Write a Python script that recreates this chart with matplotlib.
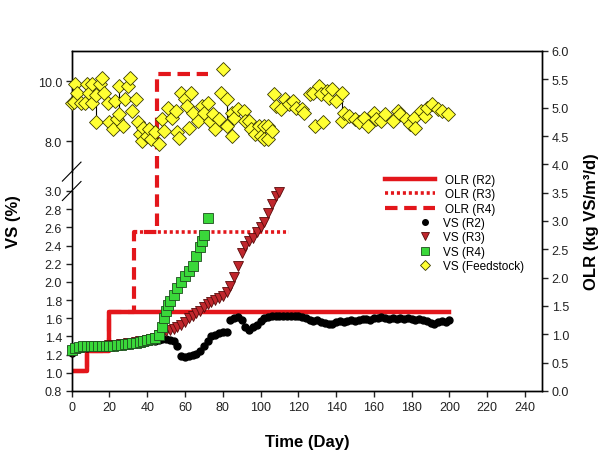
import numpy as np
import matplotlib
matplotlib.use('Agg')
import matplotlib.pyplot as plt

plt.rcParams['font.family'] = ['Liberation Sans', 'DejaVu Sans']

# OLR steps (day, kg VS/m3/d)
olr_r2_day = [0, 8, 8, 20, 20, 200]
olr_r2_val = [0.35, 0.35, 0.7, 0.7, 1.4, 1.4]
olr_r3_day = [0, 8, 8, 20, 20, 33, 33, 115]
olr_r3_val = [0.35, 0.35, 0.7, 0.7, 1.4, 1.4, 2.8, 2.8]
olr_r4_day = [0, 8, 8, 20, 20, 33, 33, 45, 45, 72]
olr_r4_val = [0.35, 0.35, 0.7, 0.7, 1.4, 1.4, 2.8, 2.8, 5.6, 5.6]

# VS (%) in reactors
r2_day = list(range(0, 201, 2))
r2_vs = [1.22, 1.25, 1.26, 1.27, 1.27, 1.28, 1.28, 1.29, 1.29, 1.29,
         1.30, 1.30, 1.31, 1.31, 1.31, 1.32, 1.32, 1.33, 1.33, 1.33,
         1.34, 1.35, 1.35, 1.36, 1.37, 1.37, 1.36, 1.35, 1.30, 1.19,
         1.17, 1.18, 1.20, 1.21, 1.24, 1.30, 1.35, 1.40, 1.42, 1.44,
         1.45, 1.45, 1.58, 1.60, 1.61, 1.58, 1.50, 1.47, 1.50, 1.53,
         1.57, 1.60, 1.61, 1.62, 1.63, 1.63, 1.62, 1.63, 1.62, 1.63,
         1.62, 1.61, 1.60, 1.58, 1.57, 1.58, 1.56, 1.55, 1.54, 1.54,
         1.56, 1.57, 1.56, 1.57, 1.58, 1.57, 1.58, 1.59, 1.59, 1.58,
         1.60, 1.60, 1.61, 1.60, 1.59, 1.60, 1.59, 1.60, 1.59, 1.60,
         1.59, 1.58, 1.59, 1.58, 1.57, 1.55, 1.54, 1.56, 1.57, 1.56, 1.58]

r3_day = list(range(0, 111, 2))
r3_vs = [1.24, 1.26, 1.27, 1.28, 1.28, 1.29, 1.29, 1.30, 1.30, 1.30,
         1.31, 1.31, 1.31, 1.32, 1.32, 1.33, 1.33, 1.34, 1.35, 1.35,
         1.36, 1.37, 1.38, 1.42, 1.44, 1.46, 1.47, 1.48, 1.50, 1.53,
         1.56, 1.60, 1.63, 1.66, 1.68, 1.72, 1.76, 1.78, 1.80, 1.82,
         1.85, 1.89, 1.95, 2.05, 2.18, 2.32, 2.40, 2.45, 2.48, 2.55,
         2.60, 2.66, 2.76, 2.86, 2.94, 2.99]

r4_day = [0, 2, 4, 6, 8, 10, 12, 14, 16, 18, 20, 22, 24, 26, 28, 30, 32, 34,
          36, 38, 40, 42, 44, 46, 48, 49, 50, 51, 52, 54, 56, 58, 60, 62, 64,
          66, 68, 69, 70, 72]
r4_vs = [1.25, 1.27, 1.28, 1.29, 1.29, 1.30, 1.30, 1.30, 1.29, 1.30,
         1.30, 1.30, 1.31, 1.31, 1.32, 1.32, 1.33, 1.33, 1.34, 1.35,
         1.36, 1.37, 1.38, 1.42, 1.50, 1.60, 1.68, 1.75, 1.79, 1.86,
         1.93, 2.00, 2.06, 2.12, 2.18, 2.28, 2.38, 2.45, 2.52, 2.70]

# VS (%) of feedstock
fs_day = [0, 1, 2, 3, 5, 7, 8, 9, 11, 11, 13, 13, 15, 16, 17, 19, 20, 22, 23,
          24, 25, 25, 27, 28, 30, 31, 32, 34, 35, 36, 37, 38, 40, 41, 42, 44,
          46, 48, 49, 51, 53, 55, 56, 57, 58, 60, 61, 62, 63, 64, 67, 69, 70,
          72, 73, 75, 76, 78, 79, 80, 82, 82, 85, 85, 86, 88, 91, 92, 94, 95,
          97, 99, 100, 102, 102, 104, 104, 106, 107, 108, 111, 113, 115, 117,
          119, 122, 123, 126, 128, 129, 131, 132, 133, 135, 136, 138, 140,
          143, 143, 144, 147, 150, 152, 155, 157, 160, 161, 164, 166, 170,
          173, 174, 177, 179, 181, 182, 185, 187, 188, 191, 194, 196, 199]
fs_vs = [9.27, 9.30, 9.89, 9.62, 9.29, 9.29, 9.89, 9.62, 9.89, 9.29, 9.55,
         8.64, 9.89, 10.12, 9.62, 9.29, 8.64, 8.41, 9.34, 8.74, 9.83, 8.90,
         8.52, 9.40, 9.83, 10.11, 9.01, 9.40, 8.63, 8.24, 8.02, 8.46, 8.18,
         8.41, 8.08, 8.30, 7.91, 8.74, 8.35, 9.12, 8.79, 9.01, 8.30, 8.13,
         9.62, 9.40, 9.17, 8.46, 9.62, 8.96, 8.68, 9.17, 8.96, 9.29, 8.68,
         8.90, 8.41, 8.74, 9.62, 10.39, 9.40, 8.51, 8.96, 8.18, 8.79, 9.07,
         9.01, 8.68, 8.68, 8.41, 8.24, 8.51, 8.18, 8.51, 8.08, 8.51, 8.08,
         8.35, 9.56, 9.17, 9.07, 9.40, 9.23, 9.34, 9.12, 9.07, 8.96, 9.56,
         9.62, 8.51, 9.83, 9.56, 8.63, 9.67, 9.45, 9.73, 9.34, 9.62, 8.68,
         8.96, 8.85, 8.74, 8.63, 8.79, 8.51, 8.96, 8.74, 8.68, 8.90, 8.68,
         9.01, 8.90, 8.74, 8.57, 8.79, 8.46, 9.01, 8.85, 9.12, 9.23, 9.07,
         9.01, 8.90]

# broken VS axis: 0.8-3.0 below, 7-11 above
brk_v = [0.8, 3.0, 7.0, 11.0]
brk_p = [0.0, 200.0, 219.4, 340.0]


def fwd(v):
    return np.interp(v, brk_v, brk_p)


def inv(p):
    return np.interp(p, brk_p, brk_v)


red = '#e3161b'

fig = plt.figure(figsize=(6.08, 4.52), dpi=100)
ax = fig.add_axes([71.7 / 608, 60 / 452, 470.3 / 608, 340 / 452])
ax2 = ax.twinx()
ax.set_zorder(ax2.get_zorder() + 1)
ax.patch.set_visible(False)

# R3 shares its first steps with R2/R4 (hidden under them), draw only from its own rise
k3 = olr_r3_val.index(max(olr_r3_val))
ax2.plot(olr_r3_day[k3:], olr_r3_val[k3:], color=red, lw=2.6, ls=(0, (0.85, 0.8)),
         label='OLR (R3)')
ax2.plot(olr_r4_day, olr_r4_val, color=red, lw=3, ls=(0, (3.0, 1.6)), label='OLR (R4)')
ax2.plot(olr_r2_day, olr_r2_val, color=red, lw=3.2, label='OLR (R2)')
ax2.set_ylim(0, 6)
ax2.set_yticks(np.arange(0, 6.01, 0.5))
ax2.set_yticklabels(['%.1f' % v for v in np.arange(0, 6.01, 0.5)])
ax2.set_ylabel('OLR (kg VS/m³/d)', fontsize=12, fontweight='bold', labelpad=11)

ax.set_yscale('function', functions=(fwd, inv))
ax.set_ylim(0.8, 11.0)
ax.set_xlim(0, 249)

# thin bars joining replicate feedstock points on the same day
days = np.array(fs_day)
vals = np.array(fs_vs)
for d in np.unique(days):
    sel = vals[days == d]
    if len(sel) > 1:
        ax.vlines(d, sel.min(), sel.max(), color='black', lw=0.8, zorder=2)

ax.plot(r2_day, r2_vs, ls='none', marker='o', ms=5, mfc='black', mec='black',
        clip_on=False, zorder=3, label='VS (R2)')
ax.plot(r3_day, r3_vs, ls='none', marker='v', ms=7.5, mfc='#c0272d', mec='#5a0a0a',
        mew=0.6, clip_on=False, zorder=4, label='VS (R3)')
ax.plot(r4_day, r4_vs, ls='none', marker='s', ms=6.5, mfc='#3ad83a', mec='#1e4d1e',
        mew=0.6, clip_on=False, zorder=5, label='VS (R4)')
ax.plot(fs_day, fs_vs, ls='none', marker='D', ms=7, mfc='#ffff33', mec='#3a3a00',
        mew=0.6, clip_on=False, zorder=6, label='VS (Feedstock)')

yt = [0.8, 1.0, 1.2, 1.4, 1.6, 1.8, 2.0, 2.2, 2.4, 2.6, 2.8, 3.0, 8.0, 10.0]
ax.set_yticks(yt)
ax.set_yticklabels(['%.1f' % v for v in yt])
ax.yaxis.set_minor_locator(matplotlib.ticker.NullLocator())
ax.set_xticks(range(0, 241, 20))
ax.set_ylabel('VS (%)', fontsize=12, fontweight='bold', labelpad=12)
ax.set_xlabel('Time (Day)', fontsize=12, fontweight='bold', labelpad=15)

for a in (ax, ax2):
    a.tick_params(direction='out', length=4, width=1, labelsize=9, pad=3, colors='#222222')
    for s in a.spines.values():
        s.set_linewidth(1)

# left spine with a break between 3.0 and 7.0
ax.spines['left'].set_visible(False)
y_lo = 200.0 / 340
y_hi = 219.4 / 340
ax.plot([0, 0], [0, y_lo], transform=ax.transAxes, color='black', lw=1, clip_on=False)
ax.plot([0, 0], [y_hi, 1], transform=ax.transAxes, color='black', lw=1, clip_on=False)
dx = 9.3 / 470.3
dy = 9.5 / 340
for yc in (y_lo, y_hi):
    ax.plot([-dx, dx], [yc - dy, yc + dy], transform=ax.transAxes, color='black',
            lw=0.8, clip_on=False)

h2, l2 = ax2.get_legend_handles_labels()
order = [2, 0, 1]
leg1 = ax.legend([h2[i] for i in order], [l2[i] for i in order], loc='upper left',
                 bbox_to_anchor=(385 / 608, 1 - 175 / 452), bbox_transform=fig.transFigure,
                 frameon=False, fontsize=8.5, handlelength=4.2, handletextpad=0.9,
                 labelspacing=0.2, borderpad=0, borderaxespad=0)
ax.add_artist(leg1)
h1, l1 = ax.get_legend_handles_labels()
ax.legend(h1, l1, loc='upper left',
          bbox_to_anchor=(419 / 608, 1 - 218 / 452), bbox_transform=fig.transFigure,
          frameon=False, fontsize=8.5, handlelength=1.0, handletextpad=1.0,
          labelspacing=0.2, borderpad=0, borderaxespad=0, markerscale=0.8)

plt.savefig('out.png', dpi=100)
